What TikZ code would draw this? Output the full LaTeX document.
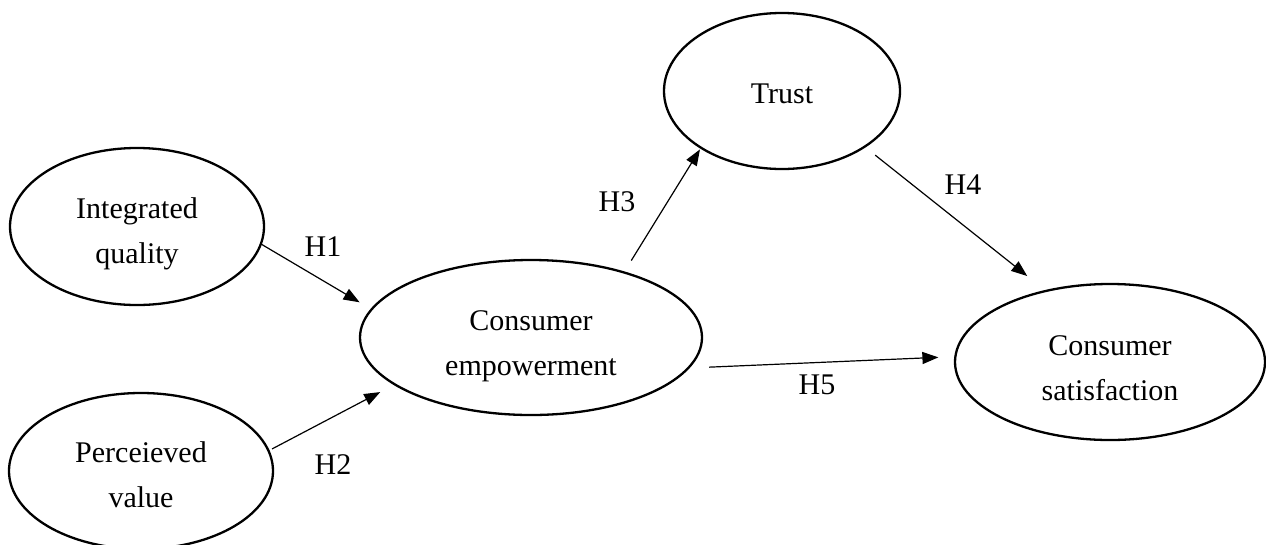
\documentclass[tikz,border=0pt]{standalone}
\usepackage{fontspec}
\setmainfont{Liberation Serif}
\usetikzlibrary{shapes.geometric,arrows.meta}

\begin{document}
\begin{tikzpicture}[x=1pt,y=-1pt,
  construct/.style={draw,ellipse,line width=2.3pt,inner sep=0pt,outer sep=0pt},
  ctext/.style={align=center,inner sep=0pt,font=\fontsize{30}{45}\selectfont},
  path arrow/.style={draw,line width=1.2pt,-{Triangle[length=16pt,width=12pt]}},
  hyp/.style={font=\fontsize{30}{36}\selectfont,inner sep=0pt}]

\useasboundingbox (0,0) rectangle (1266,544);

% construct outlines
\node[construct,minimum width=254pt,minimum height=157pt] (iq) at (137,226.5) {};
\node[construct,minimum width=264pt,minimum height=156pt] (pv) at (141,471) {};
\node[construct,minimum width=342pt,minimum height=155pt] (ce) at (531,337.5) {};
\node[construct,minimum width=236pt,minimum height=156pt] (tr) at (782,91) {};
\node[construct,minimum width=310pt,minimum height=156pt] (cs) at (1110,362) {};

% construct names
\node[ctext] (iqt) at (137,233.5) {Integrated\\quality};
\node[ctext] (pvt) at (141,475) {Perceieved\\value};
\node[ctext] (cet) at (531,346) {Consumer\\empowerment};
\node[ctext] (trt) at (782,94) {Trust};
\node[ctext] (cst) at (1110,368) {Consumer\\satisfaction};

% hypothesised paths
\draw[path arrow,shorten >=14pt] (iq.-8) -- (ce.170.6);
\draw[path arrow,shorten <=4pt,shorten >=16.5pt] (pv.9) -- (ce.199.7);
\draw[path arrow,shorten <=14pt,shorten >=2pt] (ce.35.7) -- (tr.215.7);
\draw[path arrow,shorten <=13.5pt,shorten >=24pt] (tr.-34.8) -- (cs.132.5);
\draw[path arrow,shorten <=21pt,shorten >=17pt] (ce.-11.3) -- (cs.178.7);

% path labels
\node[hyp] (h1) at (323,247) {H1};
\node[hyp] (h2) at (333,465) {H2};
\node[hyp] (h3) at (617,202) {H3};
\node[hyp] (h4) at (963,185) {H4};
\node[hyp] (h5) at (817,385) {H5};
\end{tikzpicture}
\end{document}
